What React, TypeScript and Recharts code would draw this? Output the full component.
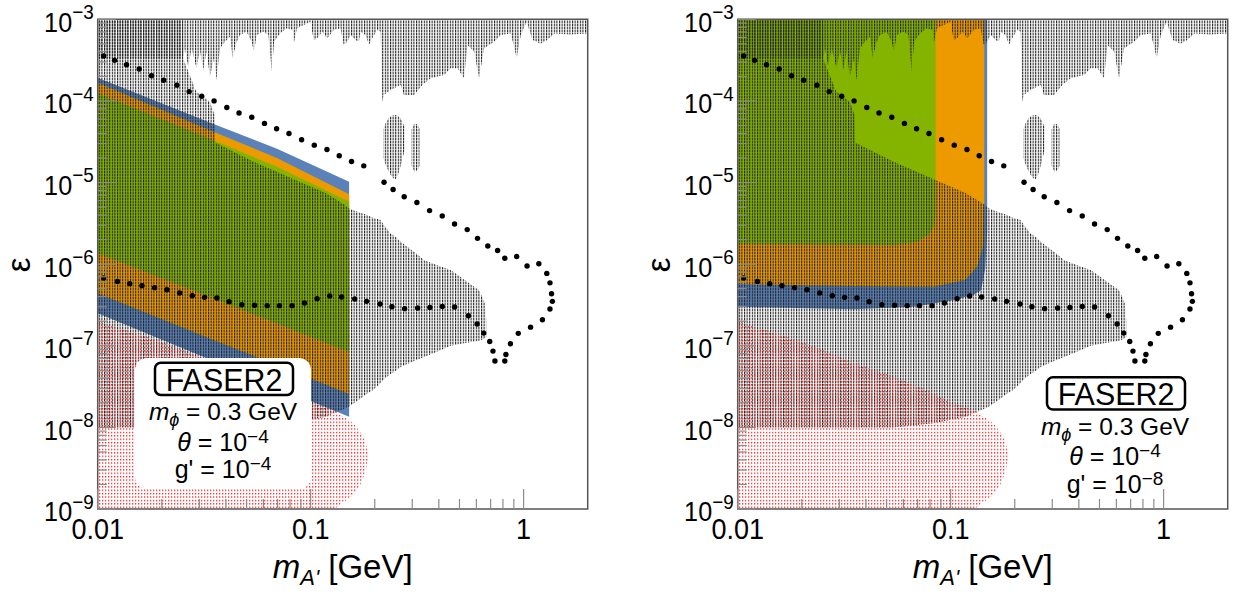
import React from 'react';
import { ComposedChart, Area, Scatter, XAxis, YAxis, ReferenceArea } from 'recharts';

const FONT = '"Liberation Sans", Arial, Helvetica, sans-serif';

const xTicks = [0.01, 0.02, 0.03, 0.04, 0.05, 0.06, 0.07, 0.08, 0.09, 0.1, 0.2, 0.3, 0.4, 0.5, 0.6, 0.7, 0.8, 0.9, 1];
const yTicks = [
  1e-9, 2e-9, 3e-9, 4e-9, 5e-9, 6e-9, 7e-9, 8e-9, 9e-9,
  1e-8, 2e-8, 3e-8, 4e-8, 5e-8, 6e-8, 7e-8, 8e-8, 9e-8,
  1e-7, 2e-7, 3e-7, 4e-7, 5e-7, 6e-7, 7e-7, 8e-7, 9e-7,
  1e-6, 2e-6, 3e-6, 4e-6, 5e-6, 6e-6, 7e-6, 8e-6, 9e-6,
  1e-5, 2e-5, 3e-5, 4e-5, 5e-5, 6e-5, 7e-5, 8e-5, 9e-5,
  1e-4, 2e-4, 3e-4, 4e-4, 5e-4, 6e-4, 7e-4, 8e-4, 9e-4, 1e-3,
];

// black dotted contour [m_A', epsilon]
const contour: [number, number][] = [
  [0.01066, 3.55e-4], [0.012, 3.14e-4], [0.01366, 2.78e-4], [0.01566, 2.46e-4], [0.0179, 2.04e-4],
  [0.0204, 1.79e-4], [0.02354, 1.56e-4], [0.02688, 1.3e-4], [0.0308, 1.14e-4], [0.0352, 1.0e-4],
  [0.0404, 8.3e-5], [0.0461, 7.1e-5], [0.0529, 6.3e-5], [0.0607, 5.3e-5], [0.0692, 4.56e-5],
  [0.0791, 3.99e-5], [0.0907, 3.34e-5], [0.104, 2.87e-5], [0.1193, 2.54e-5], [0.1362, 2.13e-5],
  [0.1556, 1.81e-5], [0.1776, 1.6e-5], [0.2211, 1.01e-5], [0.2439, 8.2e-6], [0.275, 6.7e-6],
  [0.3155, 5.7e-6], [0.3618, 4.53e-6], [0.415, 3.9e-6], [0.474, 3.11e-6], [0.5435, 2.65e-6],
  [0.6076, 2.07e-6], [0.679, 1.67e-6], [0.755, 1.47e-6], [0.816, 1.18e-6], [0.928, 1.24e-6],
  [1.038, 9.5e-7], [1.179, 1.01e-6], [1.285, 7.7e-7], [1.33, 5.9e-7], [1.353, 4.34e-7],
  [1.365, 3.5e-7], [1.33, 2.82e-7], [1.226, 2.08e-7], [1.078, 1.69e-7], [0.944, 1.42e-7],
  [0.867, 1.06e-7], [0.826, 7.8e-8], [0.816, 6.5e-8], [0.7335, 6.5e-8], [0.718, 8.6e-8],
  [0.6935, 1.13e-7], [0.65, 1.43e-7], [0.605, 1.85e-7], [0.5506, 2.33e-7], [0.474, 2.98e-7],
  [0.415, 3.03e-7], [0.3633, 2.95e-7], [0.318, 2.9e-7], [0.2762, 2.85e-7], [0.2408, 3.01e-7],
  [0.2117, 3.25e-7], [0.183, 3.5e-7], [0.161, 3.74e-7], [0.1398, 3.96e-7], [0.1229, 4.07e-7],
  [0.1072, 3.78e-7], [0.0935, 3.34e-7], [0.0818, 3.1e-7], [0.0714, 3.1e-7], [0.0625, 3.1e-7],
  [0.0545, 3.13e-7], [0.0475, 3.18e-7], [0.0414, 3.47e-7], [0.0363, 3.85e-7], [0.03176, 3.92e-7],
  [0.0278, 4.1e-7], [0.02424, 4.43e-7], [0.02113, 4.86e-7], [0.0185, 5.15e-7], [0.01614, 5.45e-7],
  [0.01413, 5.77e-7], [0.01238, 6.15e-7], [0.01066, 6.76e-7],
];

// existing constraints (hatched): [x, low, high]
const grayMain: [number, number, number][] = [
  [0.01, 1e-8, 1e-3], [0.0251, 1e-8, 1e-3], [0.0252, 1e-8, 3.3e-4], [0.029, 1e-8, 1.3e-4],
  [0.0336, 1e-8, 9.8e-5], [0.0354, 1e-8, 6.7e-5], [0.0356, 1e-8, 3.1e-5], [0.054, 1e-8, 1.8e-5],
  [0.0832, 1.12e-8, 1.1e-5], [0.1171, 1.34e-8, 7.5e-6], [0.145, 1.7e-8, 5.3e-6], [0.151, 1.79e-8, 4.83e-6],
  [0.1655, 2.1e-8, 4.39e-6], [0.1845, 2.6e-8, 4.0e-6], [0.196, 2.86e-8, 3.7e-6], [0.2131, 3.5e-8, 3.47e-6],
  [0.2208, 3.9e-8, 3.01e-6], [0.2374, 4.5e-8, 2.38e-6], [0.2535, 5.0e-8, 2.1e-6], [0.2646, 5.5e-8, 1.88e-6],
  [0.3057, 6.5e-8, 1.42e-6], [0.342, 7.3e-8, 1.12e-6], [0.3938, 8.5e-8, 9.7e-7], [0.455, 1.0e-7, 8.5e-7],
  [0.525, 1.07e-7, 6.5e-7], [0.618, 1.15e-7, 4.8e-7], [0.659, 1.23e-7, 3.3e-7], [0.6675, 1.28e-7, 2.07e-7],
];

const grayTop: [number, number, number][] = [
  [0.01, 3.3e-4, 1e-3], [0.0252, 3.3e-4, 1e-3], [0.02567, 4.41e-4, 1e-3], [0.02661, 2.63e-4, 1e-3],
  [0.02759, 4.41e-4, 1e-3], [0.02913, 2.51e-4, 1e-3], [0.0302, 4.2e-4, 1e-3], [0.03131, 2.39e-4, 1e-3],
  [0.03246, 4.01e-4, 1e-3], [0.03366, 1.98e-4, 1e-3], [0.03516, 3.33e-4, 1e-3], [0.03618, 1.8e-4, 1e-3],
  [0.03751, 4.41e-4, 1e-3], [0.0396, 5.32e-4, 1e-3], [0.04181, 6.1e-4, 1e-3], [0.04304, 3.33e-4, 1e-3],
  [0.04463, 5.08e-4, 1e-3], [0.04659, 6.42e-4, 1e-3], [0.05006, 7.05e-4, 1e-3], [0.05285, 5.32e-4, 1e-3],
  [0.0542, 4.01e-4, 1e-3], [0.0558, 6.42e-4, 1e-3], [0.05998, 7.05e-4, 1e-3], [0.06333, 6.42e-4, 1e-3],
  [0.06566, 2.28e-4, 1e-3], [0.06734, 5.32e-4, 1e-3], [0.07185, 6.7e-4, 1e-3], [0.07724, 7.76e-4, 1e-3],
  [0.08245, 7.4e-4, 1e-3], [0.0833, 5.08e-4, 1e-3], [0.0864, 7.76e-4, 1e-3], [0.0928, 8.5e-4, 1e-3],
  [0.0998, 9.35e-4, 1e-3], [0.1034, 5.57e-4, 1e-3], [0.1073, 5.85e-4, 1e-3], [0.1133, 7.05e-4, 1e-3],
  [0.1196, 5.85e-4, 1e-3], [0.1284, 7.4e-4, 1e-3], [0.138, 7.76e-4, 1e-3], [0.1431, 4.84e-4, 1e-3],
  [0.1485, 5.32e-4, 1e-3], [0.1539, 6.42e-4, 1e-3], [0.1625, 5.57e-4, 1e-3], [0.1684, 5.32e-4, 1e-3],
  [0.1716, 7.05e-4, 1e-3], [0.1811, 6.42e-4, 1e-3], [0.1877, 4.84e-4, 1e-3], [0.1947, 5.85e-4, 1e-3],
  [0.2055, 7.4e-4, 1e-3], [0.2131, 7.05e-4, 1e-3], [0.2171, 9.8e-5, 1e-3], [0.2208, 1.18e-4, 1e-3],
  [0.2374, 1.36e-4, 1e-3], [0.2646, 1.57e-4, 1e-3], [0.2742, 1.18e-4, 1e-3], [0.3057, 1.18e-4, 1e-3],
  [0.3347, 1.57e-4, 1e-3], [0.3663, 1.89e-4, 1e-3], [0.4231, 2.08e-4, 1e-3], [0.455, 2.51e-4, 1e-3],
  [0.489, 2.51e-4, 1e-3], [0.5254, 1.89e-4, 1e-3], [0.5452, 4.84e-4, 1e-3], [0.5854, 4.01e-4, 1e-3],
  [0.618, 1.89e-4, 1e-3], [0.6526, 4.41e-4, 1e-3], [0.7273, 5.32e-4, 1e-3], [0.782, 6.42e-4, 1e-3],
  [0.871, 6.7e-4, 1e-3], [0.928, 3.33e-4, 1e-3], [0.97, 6.4e-4, 1e-3], [1.033, 9.3e-4, 1e-3],
  [1.1, 5.6e-4, 1e-3], [1.2, 5.0e-4, 1e-3], [1.28, 5.5e-4, 1e-3], [1.4, 6.7e-4, 1e-3],
  [1.655, 6.5e-4, 1e-3], [2.0, 6.7e-4, 1e-3],
];

const island1: [number, number, number][] = [
  [0.219, 2.0e-5, 4.5e-5], [0.235, 1.3e-5, 6.3e-5], [0.25, 1.1e-5, 6.7e-5], [0.265, 1.6e-5, 6.0e-5], [0.276, 2.5e-5, 4.8e-5],
];
const island2: [number, number, number][] = [
  [0.298, 1.6e-5, 4.5e-5], [0.31, 1.35e-5, 5.3e-5], [0.325, 1.6e-5, 4.6e-5],
];

// red dotted region
const redRegion: [number, number, number][] = [
  [0.01, 1e-9, 1.97e-7], [0.023, 1e-9, 9.7e-8], [0.0353, 1e-9, 6.1e-8], [0.0542, 1e-9, 4.17e-8],
  [0.0832, 1e-9, 2.61e-8], [0.103, 1e-9, 1.97e-8], [0.1276, 1e-9, 1.63e-8], [0.139, 1.17e-9, 1.4e-8],
  [0.158, 1.5e-9, 1.12e-8], [0.172, 2.06e-9, 8.5e-9], [0.1798, 2.8e-9, 7e-9], [0.1875, 4.36e-9, 4.4e-9],
];

// FASER2 reach, g' = 1e-4 (left)
const leftBlue: [number, number, number][] = [[0.01, 2.5e-7, 1.92e-4], [0.035, 6.5e-8, 5.2e-5], [0.0695, 3.1e-8, 2.6e-5], [0.1516, 1.35e-8, 1.02e-5]];
const leftOrange: [number, number, number][] = [[0.01, 4.4e-7, 1.67e-4], [0.035, 1.18e-7, 4.2e-5], [0.0695, 5.8e-8, 2.0e-5], [0.1516, 2.56e-8, 7.2e-6]];
const leftGreen: [number, number, number][] = [[0.01, 1.36e-6, 1.24e-4], [0.035, 3.8e-7, 3.3e-5], [0.0695, 1.87e-7, 1.56e-5], [0.1516, 8.4e-8, 5.8e-6]];

// FASER2 reach, g' = 1e-8 (right)
const rightBlue: [number, number, number][] = [[0.01, 3.0e-7, 1e-3], [0.0353, 2.8e-7, 1e-3], [0.0671, 3.0e-7, 1e-3], [0.103, 3.6e-7, 1e-3], [0.1276, 4.2e-7, 1e-3], [0.139, 4.8e-7, 1e-3], [0.1455, 9e-7, 1e-3], [0.1484, 2.5e-6, 1e-3]];
const rightOrange: [number, number, number][] = [[0.01, 5.7e-7, 1e-3], [0.035, 5.4e-7, 1e-3], [0.0832, 5.3e-7, 1e-3], [0.1171, 6.4e-7, 1e-3], [0.133, 9.3e-7, 1e-3], [0.1416, 1.63e-6, 1e-3], [0.1439, 6.1e-6, 1e-3]];
const rightGreen: [number, number, number][] = [[0.01, 1.78e-6, 1e-3], [0.0542, 1.71e-6, 1e-3], [0.0701, 1.88e-6, 1e-3], [0.0797, 2.38e-6, 1e-3], [0.0832, 2.88e-6, 1e-3], [0.085, 4.2e-6, 1e-3]];

const BLUE = '#5a81b8';
const ORANGE = '#ec9a00';
const GREEN = '#84b400';

const toRange = (rows: [number, number, number][]) => rows.map(([x, lo, hi]) => ({ x, r: [lo, hi] }));
const contourData = contour.map(([x, y]) => ({ x, y }));

const isMajor = (v: number) => {
  const e = Math.round(Math.log10(v));
  return Math.abs(v / Math.pow(10, e) - 1) < 1e-6;
};

const TICK_COLOR = '#8c8c8c';
const SQUEEZE = 0.9;

function YTickLeft(props: any) {
  const { x, y, payload } = props;
  const v = payload.value;
  const major = isMajor(v);
  const e = Math.round(Math.log10(v));
  return (
    <g>
      <line x1={x} x2={x + (major ? 18 : 9)} y1={y} y2={y} stroke={TICK_COLOR} strokeWidth={1.2} />
      {major && (
        <g transform={`translate(${x - 4},${y + 12.4}) scale(${SQUEEZE},1)`}>
          <text x={0} y={0} textAnchor="end" fontSize={28} fill="#000" fontFamily={FONT}>
            10<tspan dy={-12.8} fontSize={21}>{'\u2212' + -e}</tspan>
          </text>
        </g>
      )}
    </g>
  );
}

function YTickRight(props: any) {
  const { x, y, payload } = props;
  const major = isMajor(payload.value);
  return <line x1={x} x2={x - (major ? 18 : 9)} y1={y} y2={y} stroke={TICK_COLOR} strokeWidth={1.2} />;
}

function XTick(props: any) {
  const { x, y, payload } = props;
  const v = payload.value;
  const major = isMajor(v);
  return (
    <g>
      <line x1={x} x2={x} y1={y} y2={y - (major ? 20 : 10)} stroke={TICK_COLOR} strokeWidth={1.2} />
      {major && (
        <g transform={`translate(${x},${y + 29.5}) scale(${SQUEEZE},1)`}>
          <text x={0} y={0} textAnchor="middle" fontSize={30} fill="#000" fontFamily={FONT}>
            {String(v)}
          </text>
        </g>
      )}
    </g>
  );
}

const dot = (p: any) => <circle cx={p.cx} cy={p.cy} r={2.7} fill="#000" />;

function Legend({ cx, top, g, box }: { cx: number; top: number; g: string; box: boolean }) {
  return (
    <g fontFamily={FONT} fill="#000">
      {box && <rect x={cx - 89} y={top - 4.7} width={176} height={131} rx={12} fill="#fff" />}
      <rect x={cx - 69} y={top} width={138} height={32.3} rx={6} fill="#fff" stroke="#000" strokeWidth={2.5} />
      <g transform={`translate(${cx},${top + 28}) scale(0.95,1)`}>
        <text x={0} y={0} textAnchor="middle" fontSize={32}>FASER2</text>
      </g>
      <text x={cx - 1} y={top + 57.3} textAnchor="middle" fontSize={24.5}>
        <tspan fontStyle="italic">m</tspan>
        <tspan fontStyle="italic" fontSize={18} dy={6}>{'\u03d5'}</tspan>
        <tspan dy={-6}>{' = 0.3 GeV'}</tspan>
      </text>
      <text x={cx - 1} y={top + 88} textAnchor="middle" fontSize={25}>
        <tspan fontStyle="italic">{'\u03b8'}</tspan>
        <tspan>{' = 10'}</tspan>
        <tspan dy={-8} fontSize={19}>{'\u22124'}</tspan>
      </text>
      <text x={cx - 1} y={top + 115.6} textAnchor="middle" fontSize={25}>
        <tspan>{"g' = 10"}</tspan>
        <tspan dy={-8} fontSize={19}>{'\u2212' + g}</tspan>
      </text>
    </g>
  );
}

function Panel({ id, left, bands, legend }: { id: string; left: number; bands: [number, number, number][][]; legend: React.ReactNode }) {
  const hatch = `hatch-${id}`;
  const reddot = `reddot-${id}`;
  const colors = [BLUE, ORANGE, GREEN];
  return (
    <div style={{ position: 'absolute', left, top: 0, width: 600, height: 592 }}>
      <ComposedChart width={600} height={592} margin={{ top: 19.3, right: 12.3, bottom: 0, left: 0 }}>
        <defs>
          <pattern id={hatch} width={2.6} height={3} patternUnits="userSpaceOnUse">
            <rect x={0} y={0} width={1.1} height={2.5} fill="#222" />
          </pattern>
          <pattern id={reddot} width={3} height={3.4} patternUnits="userSpaceOnUse">
            <rect x={0} y={0} width={1.3} height={1.3} fill="#ff1a1a" />
          </pattern>
        </defs>
        <XAxis
          type="number"
          dataKey="x"
          scale="log"
          domain={[0.01, 2]}
          allowDataOverflow
          ticks={xTicks}
          interval={0}
          height={83}
          tickSize={0}
          tickMargin={0}
          axisLine={false}
          tickLine={false}
          tick={(p: any) => <XTick {...p} />}
        />
        <YAxis
          type="number"
          dataKey="y"
          scale="log"
          domain={[1e-9, 1e-3]}
          allowDataOverflow
          ticks={yTicks}
          interval={0}
          width={97.7}
          tickSize={0}
          tickMargin={0}
          axisLine={false}
          tickLine={false}
          tick={(p: any) => <YTickLeft {...p} />}
        />
        <YAxis
          yAxisId="right"
          orientation="right"
          type="number"
          scale="log"
          domain={[1e-9, 1e-3]}
          allowDataOverflow
          ticks={yTicks}
          interval={0}
          width={0}
          tickSize={0}
          tickMargin={0}
          axisLine={false}
          tickLine={false}
          tick={(p: any) => <YTickRight {...p} />}
        />
        {bands.map((b, i) => (
          <Area
            key={`band-${i}`}
            data={toRange(b)}
            dataKey="r"
            type="linear"
            fill={colors[i]}
            fillOpacity={1}
            stroke="none"
            dot={false}
            activeDot={false}
            isAnimationActive={false}
          />
        ))}
        <Area data={toRange(grayMain)} dataKey="r" type="linear" fill={`url(#${hatch})`} fillOpacity={1} stroke="none" dot={false} activeDot={false} isAnimationActive={false} />
        <Area data={toRange(grayTop)} dataKey="r" type="linear" fill={`url(#${hatch})`} fillOpacity={1} stroke="none" dot={false} activeDot={false} isAnimationActive={false} />
        <Area data={toRange(island1)} dataKey="r" type="monotone" fill={`url(#${hatch})`} fillOpacity={1} stroke="none" dot={false} activeDot={false} isAnimationActive={false} />
        <Area data={toRange(island2)} dataKey="r" type="monotone" fill={`url(#${hatch})`} fillOpacity={1} stroke="none" dot={false} activeDot={false} isAnimationActive={false} />
        <Area data={toRange(redRegion)} dataKey="r" type="monotone" fill={`url(#${reddot})`} fillOpacity={1} stroke="none" dot={false} activeDot={false} isAnimationActive={false} />
        <ReferenceArea x1={0.01} x2={2} y1={1e-9} y2={1e-3} fill="none" fillOpacity={0} stroke="#555" strokeWidth={1.5} ifOverflow="visible" />
        <Scatter data={contourData} dataKey="y" shape={dot} isAnimationActive={false} />
      </ComposedChart>
      <svg width={600} height={592} style={{ position: 'absolute', left: 0, top: 0, pointerEvents: 'none' }}>
        <text
          x={0}
          y={0}
          transform="translate(30,265) rotate(-90)"
          textAnchor="middle"
          fontSize={33}
          fontFamily={FONT}
          fill="#000"
        >
          {'\u03b5'}
        </text>
        <text x={342.7} y={578} textAnchor="middle" fontSize={33} fontFamily={FONT} fill="#000">
          <tspan fontStyle="italic">m</tspan>
          <tspan fontStyle="italic" fontSize={22} dy={7}>{"A'"}</tspan>
          <tspan dy={-7}>{' [GeV]'}</tspan>
        </text>
        {legend}
      </svg>
    </div>
  );
}

export default function App() {
  return (
    <div style={{ position: 'absolute', left: 0, top: 0, width: 1237, height: 592, background: '#fff' }}>
      <Panel id="L" left={0} bands={[leftBlue, leftOrange, leftGreen]} legend={<Legend cx={224} top={362.7} g="4" box />} />
      <Panel id="R" left={640} bands={[rightBlue, rightOrange, rightGreen]} legend={<Legend cx={476} top={377.3} g="8" box={false} />} />
    </div>
  );
}
